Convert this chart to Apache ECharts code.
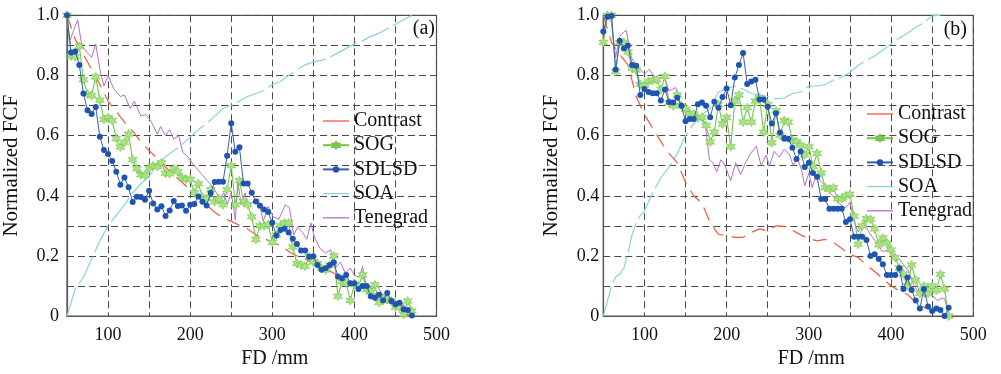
<!DOCTYPE html>
<html><head><meta charset="utf-8">
<script src="https://cdn.jsdelivr.net/npm/echarts@6/dist/echarts.min.js"></script>
<style>html,body{margin:0;padding:0;background:#fff}#c{width:1001px;height:374px}</style>
</head><body><div id="c"></div>
<script>
// ---------- data ----------
const fd5 = [50,55,60,65,70,75,80,85,90,95,100,105,110,115,120,125,130,135,140,145,150,155,160,165,170,175,180,185,190,195,200,205,210,215,220,225,230,235,240,245,250,255,260,265,270,275,280,285,290,295,300,305,310,315,320,325,330,335,340,345,350,355,360,365,370,375,380,385,390,395,400,405,410,415,420,425,430,435,440,445,450,455,460,465,470];
const fd10 = [50,60,70,80,90,100,110,120,130,140,150,160,170,180,190,200,210,220,230,240,250,260,270,280,290,300,310,320,330,340,350,360,370,380,390,400,410,420,430,440,450,460,470];

// panel (a)
const aContrast = [1.0,0.92,0.87,0.82,0.77,0.715,0.68,0.645,0.615,0.58,0.55,0.525,0.495,0.47,0.445,0.42,0.395,0.37,0.345,0.327,0.315,0.302,0.29,0.27,0.258,0.245,0.235,0.215,0.2,0.19,0.175,0.16,0.15,0.135,0.115,0.097,0.09,0.08,0.068,0.058,0.035,0.01,0.0];
const aSOG = [1.0,0.865,0.862,0.897,0.786,0.738,0.733,0.795,0.718,0.654,0.66,0.65,0.59,0.562,0.578,0.605,0.52,0.49,0.47,0.468,0.492,0.5,0.497,0.51,0.475,0.473,0.49,0.48,0.46,0.455,0.455,0.41,0.44,0.395,0.39,0.42,0.38,0.39,0.37,0.42,0.5,0.37,0.45,0.38,0.37,0.33,0.255,0.3,0.3,0.305,0.245,0.27,0.3,0.31,0.31,0.23,0.175,0.17,0.165,0.197,0.18,0.175,0.16,0.153,0.17,0.2,0.066,0.115,0.11,0.052,0.105,0.1,0.137,0.088,0.08,0.104,0.045,0.06,0.055,0.05,0.03,0.03,0.005,0.05,0.017];
const aSDLSD = [1.0,0.876,0.88,0.835,0.74,0.684,0.672,0.695,0.596,0.552,0.539,0.516,0.48,0.437,0.461,0.428,0.379,0.397,0.396,0.387,0.417,0.374,0.354,0.365,0.333,0.351,0.383,0.366,0.368,0.35,0.37,0.373,0.398,0.38,0.368,0.409,0.446,0.447,0.447,0.533,0.641,0.546,0.561,0.441,0.441,0.41,0.381,0.367,0.354,0.346,0.31,0.268,0.286,0.29,0.278,0.257,0.24,0.218,0.218,0.197,0.199,0.17,0.154,0.159,0.17,0.178,0.132,0.126,0.137,0.109,0.109,0.09,0.1,0.1,0.066,0.061,0.071,0.052,0.077,0.05,0.039,0.044,0.023,0.02,0.002];
const aSOA = [0,0.09,0.13,0.19,0.25,0.3,0.335,0.37,0.41,0.44,0.465,0.5,0.53,0.55,0.57,0.595,0.62,0.64,0.665,0.69,0.7,0.715,0.73,0.74,0.75,0.77,0.78,0.8,0.82,0.835,0.845,0.85,0.86,0.875,0.89,0.905,0.915,0.93,0.94,0.955,0.97,0.985,1.0];
const aTenX = [50,53,58,63,68,75,80,85,90,95,100,107,115,120,127,132,140,146,152,160,164,170,175,180,186,191,197,205,213,221,229,236,241,245,250,255,258,262,267,270,276,283,289,295,301,308,316,321,326,331,337,342,347,351,358,365,371,377,383,389,395,400,406,410,414,420,428,434,442,450,458,466,470];
const aTenegrad = [1.0,0.91,0.95,0.985,0.9,0.875,0.86,0.905,0.82,0.765,0.8,0.755,0.73,0.735,0.69,0.715,0.665,0.67,0.65,0.605,0.63,0.6,0.62,0.588,0.6,0.545,0.53,0.5,0.475,0.45,0.425,0.39,0.41,0.37,0.41,0.32,0.45,0.37,0.41,0.36,0.38,0.39,0.315,0.365,0.33,0.322,0.37,0.36,0.27,0.295,0.278,0.255,0.31,0.265,0.225,0.21,0.22,0.16,0.18,0.142,0.16,0.135,0.13,0.165,0.105,0.09,0.1,0.072,0.056,0.05,0.045,0.017,0.005];

// panel (b)
const bContrast = [1.0,0.91,0.87,0.835,0.73,0.67,0.625,0.58,0.54,0.51,0.445,0.4,0.375,0.31,0.272,0.267,0.262,0.262,0.278,0.29,0.283,0.3,0.298,0.285,0.27,0.258,0.25,0.255,0.245,0.225,0.205,0.195,0.17,0.148,0.125,0.1,0.085,0.072,0.045,0.03,0.02,0.012,0.005];
const bSOG = [0.91,1.0,1.0,0.813,0.91,0.91,0.878,0.824,0.818,0.77,0.767,0.78,0.783,0.786,0.753,0.797,0.71,0.699,0.735,0.699,0.688,0.672,0.672,0.659,0.661,0.634,0.579,0.612,0.704,0.639,0.66,0.563,0.715,0.735,0.645,0.693,0.645,0.715,0.726,0.612,0.704,0.576,0.683,0.601,0.65,0.645,0.585,0.58,0.568,0.536,0.563,0.498,0.541,0.476,0.427,0.422,0.427,0.39,0.39,0.4,0.405,0.332,0.239,0.3,0.324,0.322,0.29,0.237,0.26,0.243,0.22,0.195,0.16,0.14,0.1,0.17,0.12,0.075,0.1,0.075,0.1,0.085,0.139,0.09,0.0];
const bSDLSD = [0.946,0.995,0.998,0.82,0.915,0.89,0.9,0.835,0.832,0.735,0.755,0.745,0.741,0.741,0.717,0.753,0.712,0.71,0.726,0.699,0.648,0.655,0.655,0.704,0.71,0.699,0.661,0.713,0.693,0.728,0.757,0.701,0.793,0.835,0.875,0.772,0.78,0.786,0.72,0.72,0.696,0.64,0.674,0.61,0.59,0.59,0.56,0.522,0.547,0.496,0.51,0.476,0.463,0.389,0.389,0.357,0.357,0.357,0.357,0.313,0.322,0.264,0.264,0.264,0.253,0.2,0.206,0.19,0.172,0.137,0.137,0.137,0.159,0.09,0.128,0.087,0.052,0.025,0.09,0.032,0.017,0.025,0.02,0.0,0.028];
const bSOAX = [50,55,60,65,70,75,80,85,90,95,100,110,120,130,140,150,160,170,180,190,200,210,220,230,240,250,260,270,280,290,300,310,320,330,340,350,360,370,380,390,400,410,420,430,440,450,460];
const bSOA = [0,0.05,0.1,0.13,0.14,0.16,0.21,0.27,0.31,0.335,0.35,0.41,0.46,0.495,0.54,0.6,0.64,0.67,0.69,0.745,0.755,0.765,0.755,0.74,0.735,0.73,0.722,0.725,0.74,0.745,0.765,0.765,0.77,0.785,0.795,0.81,0.834,0.85,0.865,0.885,0.905,0.925,0.94,0.96,0.975,0.998,1.0];
const bTenX = [50,55,60,65,70,75,78,84,90,100,106,115,124,130,138,144,152,160,168,174,179,183,188,193,198,205,211,217,223,229,236,242,248,252,258,264,270,276,281,286,291,295,300,304,309,314,320,325,330,335,340,345,350,355,360,364,368,373,378,384,389,397,401,405,410,415,421,427,433,437,441,445,449,453,457,462,465,469,471];
const bTenegrad = [0.94,1.0,0.975,0.86,0.93,0.945,0.95,0.86,0.835,0.805,0.82,0.785,0.797,0.748,0.76,0.705,0.695,0.668,0.655,0.64,0.52,0.51,0.48,0.52,0.5,0.45,0.51,0.47,0.51,0.54,0.565,0.5,0.535,0.5,0.548,0.528,0.555,0.54,0.5,0.525,0.487,0.433,0.476,0.427,0.47,0.45,0.433,0.415,0.395,0.38,0.367,0.36,0.378,0.313,0.28,0.3,0.307,0.28,0.26,0.24,0.215,0.22,0.2,0.183,0.19,0.172,0.15,0.107,0.08,0.09,0.063,0.07,0.074,0.06,0.052,0.06,0.058,0.02,0.003];

const legendNames = ['Contrast','SOG','SDLSD','SOA','Tenegrad'];
const xTicks = [100,200,300,400,500];
const yTicks = [0,0.2,0.4,0.6,0.8,1.0];

// ---------- chart ----------
const pairs = (xs, ys) => xs.map((x, i) => [x, ys[i]]);
const FONT = 'Liberation Serif';
const C = {contrast:'#ef5a3a', sogLine:'#74c44c', sogFill:'#a9e283', sdLine:'#3a5fb0', sdDot:'#1f55b2', soa:'#86d3e3', ten:'#b272c8'};
const STAR = 'path://M0,-10 L2.6,-4.5 L8.7,-5 L5.2,0 L8.7,5 L2.6,4.5 L0,10 L-2.6,4.5 L-8.7,5 L-5.2,0 L-8.7,-5 L-2.6,-4.5 Z';
const LINE_ICON = 'path://M0,0 L40,0 L40,2 L0,2 Z';
const plainLine = {Contrast:true, SOA:true, Tenegrad:true};

function xAx(gi, nameGap){
  return {
    gridIndex: gi, type:'value', min:50, max:500, interval:50,
    name:'FD /mm', nameLocation:'middle', nameGap: nameGap,
    nameTextStyle:{fontFamily:FONT, fontSize:20, color:'#111', padding:[0,0,0,46]},
    axisLine:{show:true, lineStyle:{color:'#555', width:1.2}},
    axisTick:{show:false},
    axisLabel:{fontFamily:FONT, fontSize:18, color:'#111', margin:10,
      formatter: v => xTicks.indexOf(v) >= 0 ? String(v) : ''},
    splitLine:{show:true, lineStyle:{color:'#4a4a4a', width:1, type:[7,4]}}
  };
}
function yAx(gi, nameGap, lblMargin){
  return {
    gridIndex: gi, type:'value', min:0, max:1, interval:0.1,
    name:'Normalized FCF', nameLocation:'middle', nameGap: nameGap,
    nameTextStyle:{fontFamily:FONT, fontSize:21, color:'#111'},
    axisLine:{show:true, lineStyle:{color:'#555', width:1.2}},
    axisTick:{show:false},
    axisLabel:{fontFamily:FONT, fontSize:18, color:'#111', margin:lblMargin,
      formatter: v => { const r = Math.round(v*10)/10; return yTicks.some(t => Math.abs(t-r) < 1e-9) ? (r === 0 ? '0' : r.toFixed(1)) : ''; }},
    splitLine:{show:true, lineStyle:{color:'#4a4a4a', width:1, type:[7,4]}}
  };
}
function panelSeries(gi, d){
  return [
    {name:'Contrast', type:'line', xAxisIndex:gi, yAxisIndex:gi, data:pairs(d.cx, d.contrast), symbol:'none',
      lineStyle:{color:C.contrast, width:1.2, type:[14,8]}, itemStyle:{color:C.contrast}, z:3},
    {name:'SOG', type:'line', xAxisIndex:gi, yAxisIndex:gi, data:pairs(fd5, d.sog), symbol:STAR, symbolSize:9,
      lineStyle:{color:C.sogLine, width:1.1}, itemStyle:{color:C.sogFill, borderColor:C.sogLine, borderWidth:0.6}, z:4},
    {name:'SDLSD', type:'line', xAxisIndex:gi, yAxisIndex:gi, data:pairs(fd5, d.sdlsd), symbol:'circle', symbolSize:6,
      lineStyle:{color:C.sdLine, width:1}, itemStyle:{color:C.sdDot}, z:5},
    {name:'SOA', type:'line', xAxisIndex:gi, yAxisIndex:gi, data:pairs(d.sx, d.soa), symbol:'none',
      lineStyle:{color:C.soa, width:1.2, type:[30,5]}, itemStyle:{color:C.soa}, z:2},
    {name:'Tenegrad', type:'line', xAxisIndex:gi, yAxisIndex:gi, data:pairs(d.tx, d.ten), symbol:'none',
      lineStyle:{color:C.ten, width:1}, itemStyle:{color:C.ten}, z:3}
  ];
}
function legend(left, top){
  return {
    data: legendNames.map(n => plainLine[n] ? {name:n, icon:LINE_ICON} : {name:n}),
    orient:'vertical', left:left, top:top, padding:0,
    itemWidth:26, itemHeight:8, itemGap:4.2,
    textStyle:{fontFamily:FONT, fontSize:20, color:'#111', lineHeight:20},
    lineStyle:{type:'solid'}, backgroundColor:'rgba(0,0,0,0)'
  };
}

const chart = echarts.init(document.getElementById('c'), null, {renderer:'canvas'});
chart.setOption({
  animation:false,
  backgroundColor:'#ffffff',
  grid:[
    {left:66, top:15.3, width:370.5, height:306.7, show:true, borderColor:'#555', borderWidth:1.2, containLabel:false},
    {left:603.3, top:15.3, width:370, height:307.4, show:true, borderColor:'#555', borderWidth:1.2, containLabel:false}
  ],
  xAxis:[xAx(0, 31), xAx(1, 31)],
  yAxis:[yAx(0, 45, 8), yAx(1, 41, 4)],
  legend:[legend(322, 111), legend(866, 104)],
  graphic:[
    {type:'text', right:566, top:19, style:{text:'(a)', font:'20px "Liberation Serif"', fill:'#111'}},
    {type:'text', right:34, top:20, style:{text:'(b)', font:'20px "Liberation Serif"', fill:'#111'}}
  ],
  series:[].concat(
    panelSeries(0, {cx:fd10, contrast:aContrast, sog:aSOG, sdlsd:aSDLSD, sx:fd10, soa:aSOA, tx:aTenX, ten:aTenegrad}),
    panelSeries(1, {cx:fd10, contrast:bContrast, sog:bSOG, sdlsd:bSDLSD, sx:bSOAX, soa:bSOA, tx:bTenX, ten:bTenegrad})
  )
});
</script></body></html>
